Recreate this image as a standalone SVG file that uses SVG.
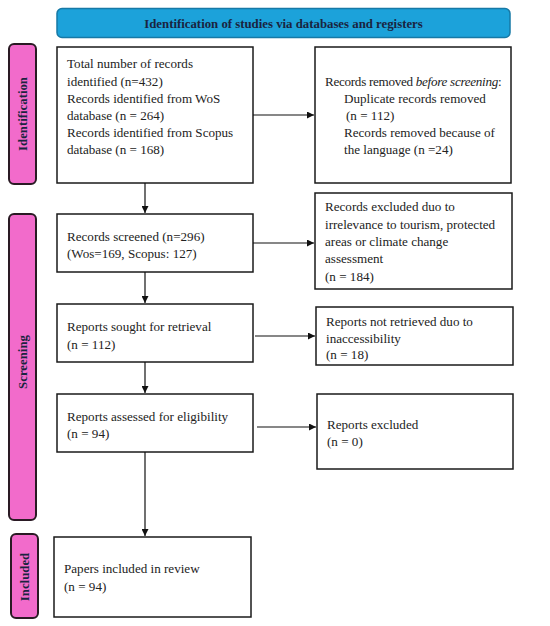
<svg xmlns="http://www.w3.org/2000/svg" width="550" height="626" viewBox="0 0 550 626">
<style>
.box{fill:#fff;stroke:#1a1a1a;stroke-width:1.5}
.side{fill:#f26bcb;stroke:#2a1a24;stroke-width:2}
.t{font-family:"Liberation Serif","DejaVu Serif",serif;font-size:13.1px;fill:#222}
.b{font-family:"Liberation Serif","DejaVu Serif",serif;font-size:12.8px;font-weight:bold;fill:#1a2440}
.c{stroke:#111;stroke-width:1.2;fill:none}
</style>
<defs>
<marker id="ah" viewBox="0 0 10 10" refX="10" refY="5" markerWidth="7" markerHeight="7" markerUnits="userSpaceOnUse" orient="auto">
<path d="M0,0 L10,5 L0,10 z" fill="#111"/>
</marker>
</defs>
<rect width="550" height="626" fill="#fff"/>
<g id="header">
<rect x="57" y="8.5" width="453" height="29" rx="5" fill="#1ca2da" stroke="#1679a6" stroke-width="1.5"/>
<text class="b" x="283.5" y="27.5" text-anchor="middle">Identification of studies via databases and registers</text>
</g>
<g id="lbl-identification">
<rect class="side" x="9" y="44" width="27" height="140" rx="5"/>
<text class="b" transform="translate(27,114) rotate(-90)" text-anchor="middle">Identification</text>
</g>
<g id="lbl-screening">
<rect class="side" x="9" y="214" width="27" height="306" rx="5"/>
<text class="b" transform="translate(27,362) rotate(-90)" text-anchor="middle">Screening</text>
</g>
<g id="lbl-included">
<rect class="side" x="11" y="534" width="27" height="84" rx="5"/>
<text class="b" transform="translate(29,577) rotate(-90)" text-anchor="middle">Included</text>
</g>
<g id="n1">
<rect class="box" x="57" y="47" width="196" height="136"/>
<text class="t" x="67" y="68">Total number of records</text>
<text class="t" x="67" y="85.5">identified (n=432)</text>
<text class="t" x="67" y="103">Records identified from WoS</text>
<text class="t" x="67" y="120">database (n = 264)</text>
<text class="t" x="67" y="137">Records identified from Scopus</text>
<text class="t" x="67" y="154">database (n = 168)</text>
</g>
<g id="n1r">
<rect class="box" x="315" y="47" width="196" height="136"/>
<text class="t" x="325" y="86" letter-spacing="-0.28">Records removed <tspan font-style="italic">before screening</tspan>:</text>
<text class="t" x="344" y="103">Duplicate records removed</text>
<text class="t" x="346" y="120">(n = 112)</text>
<text class="t" x="344" y="137">Records removed because of</text>
<text class="t" x="344" y="154">the language (n =24)</text>
</g>
<g id="n2">
<rect class="box" x="57" y="214" width="196" height="58"/>
<text class="t" x="67" y="241">Records screened (n=296)</text>
<text class="t" x="67" y="258">(Wos=169, Scopus: 127)</text>
</g>
<g id="n2r">
<rect class="box" x="315" y="193" width="197" height="96"/>
<text class="t" x="325" y="211">Records excluded duo to</text>
<text class="t" x="325" y="228.5">irrelevance to tourism, protected</text>
<text class="t" x="325" y="246">areas or climate change</text>
<text class="t" x="325" y="263">assessment</text>
<text class="t" x="325" y="281">(n = 184)</text>
</g>
<g id="n3">
<rect class="box" x="57" y="304" width="196" height="58"/>
<text class="t" x="67" y="331">Reports sought for retrieval</text>
<text class="t" x="67" y="349">(n = 112)</text>
</g>
<g id="n3r">
<rect class="box" x="316" y="307" width="197" height="58"/>
<text class="t" x="326" y="326">Reports not retrieved duo to</text>
<text class="t" x="326" y="343">inaccessibility</text>
<text class="t" x="326" y="359">(n = 18)</text>
</g>
<g id="n4">
<rect class="box" x="57" y="394" width="196" height="58"/>
<text class="t" x="67" y="421">Reports assessed for eligibility</text>
<text class="t" x="67" y="438">(n = 94)</text>
</g>
<g id="n4r">
<rect class="box" x="317" y="394" width="196" height="75"/>
<text class="t" x="327" y="429">Reports excluded</text>
<text class="t" x="327" y="446">(n = 0)</text>
</g>
<g id="n5">
<rect class="box" x="54" y="537" width="197" height="80"/>
<text class="t" x="64" y="573">Papers included in review</text>
<text class="t" x="64" y="591">(n = 94)</text>
</g>
<g id="connectors">
<path class="c" d="M253,115 H314" marker-end="url(#ah)"/>
<path class="c" d="M145,183 V213" marker-end="url(#ah)"/>
<path class="c" d="M253,243 H314" marker-end="url(#ah)"/>
<path class="c" d="M145,272 V303" marker-end="url(#ah)"/>
<path class="c" d="M255,336 H315" marker-end="url(#ah)"/>
<path class="c" d="M145,362 V393" marker-end="url(#ah)"/>
<path class="c" d="M257,427 H316" marker-end="url(#ah)"/>
<path class="c" d="M145,452 V536" marker-end="url(#ah)"/>
</g>
</svg>
